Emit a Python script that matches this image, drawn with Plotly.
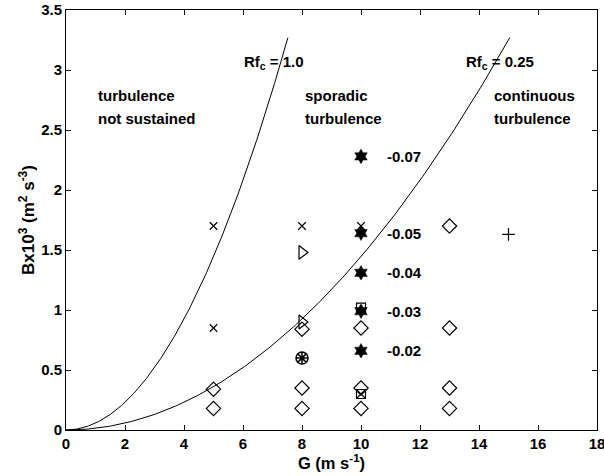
import numpy as np
import plotly.graph_objects as go

# Critical flux Richardson number curves: B = K * Rf_c * G^2
RF_VALUES = [1.0, 0.25]
K_COEF = 0.0578
B_TOP = 3.27

# Open diamonds
diamond_g = [5, 5, 8, 8, 8, 10, 10, 10, 13, 13, 13, 13]
diamond_b = [0.34, 0.18, 0.35, 0.18, 0.84, 0.35, 0.18, 0.85, 1.70, 0.85, 0.35, 0.18]

# Crosses
cross_g = [5, 5, 8, 10]
cross_b = [1.70, 0.85, 1.70, 1.70]

# Right-pointing triangles
tri_g = [8, 8]
tri_b = [1.48, 0.90]

# Filled six-point stars with their labels
star_g = [10, 10, 10, 10, 10]
star_b = [2.28, 1.64, 1.31, 0.99, 0.66]
star_labels = ["-0.07", "-0.05", "-0.04", "-0.03", "-0.02"]

# Squares
square_g = [10]
square_b = [1.02]
squarex_g = [10]
squarex_b = [0.30]

# Circle with asterisk
circ_g = [8]
circ_b = [0.60]

# Plus
plus_g = [15]
plus_b = [1.63]

FONT = "Liberation Sans"
fig = go.Figure()

for rf in RF_VALUES:
    gmax = np.sqrt(B_TOP / (K_COEF * rf))
    g = np.linspace(0, gmax, 200)
    fig.add_trace(go.Scatter(x=g, y=K_COEF * rf * g ** 2, mode="lines",
                             line=dict(color="black", width=1), hoverinfo="skip"))

def pts(x, y, symbol, size, width=1.2):
    fig.add_trace(go.Scatter(x=x, y=y, mode="markers",
                             marker=dict(symbol=symbol, size=size, color="black",
                                         line=dict(color="black", width=width))))

pts(diamond_g, diamond_b, "diamond-open", 11)
pts(cross_g, cross_b, "x-thin-open", 7.5)
pts(tri_g, tri_b, "triangle-right-open", 12)
pts(star_g, star_b, "hexagram", 11, 0.5)
pts(square_g, square_b, "square-open", 9)
pts(squarex_g, squarex_b, "square-x-open", 9)
pts(circ_g, circ_b, "circle-open", 12, 1.5)
pts(circ_g, circ_b, "asterisk-open", 10, 1.5)
pts(circ_g, circ_b, "x-thin-open", 6, 1.2)
pts(plus_g, plus_b, "cross-thin-open", 9)

tf = dict(family=FONT, size=15, color="black", weight="bold")
title_x_font = dict(family=FONT, size=16.5, color="black", weight="bold")
title_y_font = dict(family=FONT, size=17, color="black", weight="bold")

annotations = []
def label(x, y, text):
    annotations.append(dict(x=x, y=y, xref="x", yref="y", text=text, showarrow=False,
                            xanchor="left", yanchor="middle", font=tf))

for yv, t in zip(star_b, star_labels):
    label(10.8, yv, t)

label(1.0, 2.79, "turbulence")
label(1.0, 2.60, "not sustained")
label(8.05, 2.79, "sporadic")
label(8.05, 2.60, "turbulence")
label(14.45, 2.79, "continuous")
label(14.45, 2.60, "turbulence")
label(5.97, 3.06, "Rf<sub>c</sub> = 1.0")
label(13.5, 3.06, "Rf<sub>c</sub> = 0.25")

axis_common = dict(showgrid=False, zeroline=False, showline=True, linecolor="black",
                   linewidth=1, mirror="ticks", ticks="inside", ticklen=5,
                   tickcolor="black", tickfont=tf, automargin=False)

fig.update_layout(
    width=604, height=476,
    margin=dict(l=66, r=7, t=10, b=46),
    plot_bgcolor="white", paper_bgcolor="white",
    showlegend=False,
    annotations=annotations,
    xaxis=dict(range=[0, 18], dtick=2, tick0=0, ticklabeloverflow="allow",
               title=dict(text="G (m s<sup>-1</sup>)", font=title_x_font, standoff=3),
               **axis_common),
    yaxis=dict(range=[0, 3.5], dtick=0.5, tick0=0,
               title=dict(text="Bx10<sup>3</sup> (m<sup>2</sup> s<sup>-3</sup>)",
                          font=title_y_font, standoff=2),
               **axis_common),
)

fig.write_html("out.html")
